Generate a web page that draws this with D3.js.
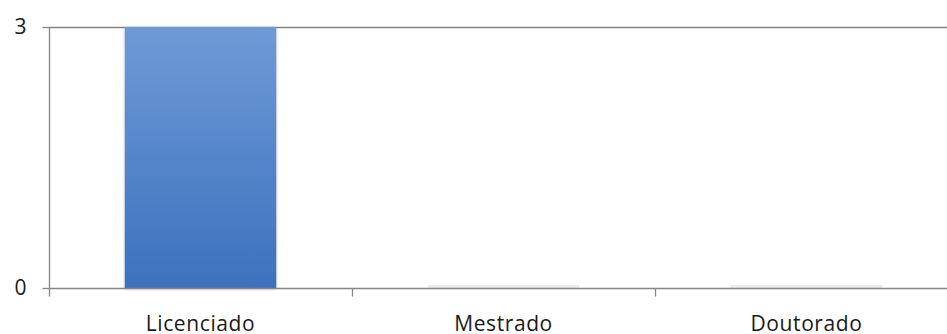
<!DOCTYPE html>
<html><head><meta charset="utf-8">
<script src="https://cdn.jsdelivr.net/npm/d3@7"></script>
<style>body{margin:0;background:#fff}svg{display:block}</style>
</head><body>
<script>
const categories = ["Licenciado", "Mestrado", "Doutorado"];
const values = [3, 0, 0];
const yTicks = [0, 3];

const W = 947, H = 334;
const m = {left: 49, top: 27};
const svg = d3.select("body").append("svg").attr("width", W).attr("height", H);

const defs = svg.append("defs");
const g = defs.append("linearGradient").attr("id", "bg").attr("x1", 0).attr("y1", 0).attr("x2", 0).attr("y2", 1);
g.append("stop").attr("offset", "0%").attr("stop-color", "#6f9ad6");
g.append("stop").attr("offset", "100%").attr("stop-color", "#3c71bd");
const f = defs.append("filter").attr("id", "sh").attr("x", "-10%").attr("y", "-10%").attr("width", "120%").attr("height", "120%");
f.append("feDropShadow").attr("dx", 0).attr("dy", 1).attr("stdDeviation", 1.5).attr("flood-color", "#000").attr("flood-opacity", 0.25);

const x = d3.scaleBand().domain(categories).range([m.left, m.left + 303 * 3]).paddingInner(0).paddingOuter(0);
const y = d3.scaleLinear().domain([0, 3]).range([288, 27]);

// top gridline
svg.append("g").selectAll("line").data(yTicks.filter(t => t > 0)).join("line")
  .attr("x1", m.left).attr("x2", W).attr("y1", d => y(d) + 0.5).attr("y2", d => y(d) + 0.5)
  .attr("stroke", "#868686").attr("stroke-width", 1.3);

// bars
const bw = x.bandwidth() * 0.5;
svg.append("g").selectAll("rect").data(categories).join("rect")
  .attr("x", d => x(d) + (x.bandwidth() - bw) / 2)
  .attr("y", (d, i) => y(values[i]))
  .attr("width", bw)
  .attr("height", (d, i) => Math.max(0, y(0) - y(values[i])))
  .attr("fill", "url(#bg)")
  .attr("filter", "url(#sh)");

// faint shadows for zero bars
svg.append("g").selectAll("rect").data(categories.filter((d, i) => values[i] === 0)).join("rect")
  .attr("x", d => x(d) + (x.bandwidth() - bw) / 2)
  .attr("y", y(0) - 3).attr("width", bw).attr("height", 3)
  .attr("fill", "#ececec");

// y axis
const ya = svg.append("g").attr("transform", `translate(${m.left + 0.5},0)`)
  .call(d3.axisLeft(y).tickValues(yTicks).tickSize(7).tickPadding(16).tickFormat(d3.format("d")));
ya.select(".domain").attr("stroke", "#868686").attr("stroke-width", 1.3).attr("d", `M0,${y(3)}V${y(0)}`);
ya.selectAll(".tick line").attr("stroke", "#868686").attr("stroke-width", 1.3);
ya.selectAll("text").attr("font-family", "'Open Sans', sans-serif").attr("font-size", 21).attr("fill", "#1a1a1a");

// x axis
const xa = svg.append("g").attr("transform", `translate(0,${y(0) + 0.5})`);
xa.append("line").attr("x1", m.left).attr("x2", W).attr("stroke", "#868686").attr("stroke-width", 1.3);
xa.selectAll(".xt").data(categories).join("line").attr("class", "xt")
  .attr("x1", d => x(d) + 0.5).attr("x2", d => x(d) + 0.5).attr("y1", 0).attr("y2", 8)
  .attr("stroke", "#868686").attr("stroke-width", 1.3);
xa.selectAll("text").data(categories).join("text")
  .attr("x", d => x(d) + x.bandwidth() / 2).attr("y", 42.5)
  .attr("text-anchor", "middle")
  .attr("font-family", "'Open Sans', sans-serif").attr("font-size", 21).attr("letter-spacing", 0.6).attr("fill", "#1a1a1a")
  .text(d => d);
</script>
</body></html>
